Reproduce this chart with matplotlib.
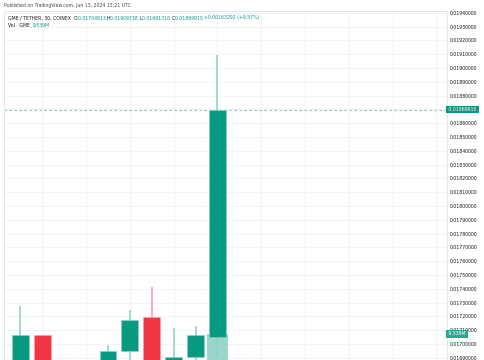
import numpy as np
import matplotlib
matplotlib.use("Agg")
import matplotlib.pyplot as plt

# GME / TETHER 30m candles (off-screen parts estimated)
idx = [0, 1, 4, 5, 6, 7, 8, 9]
opens = [0.01686, 0.017063, 0.01686, 0.016949, 0.017193, 0.01686, 0.016908, 0.01704913]
highs = [0.017278, 0.017063, 0.016995, 0.017244, 0.017411, 0.017114, 0.017130, 0.01909738]
lows = [0.01684, 0.01684, 0.01684, 0.01685, 0.01684, 0.01684, 0.01686, 0.01691316]
closes = [0.017063, 0.01686, 0.016951, 0.017172, 0.01686, 0.016906, 0.017063, 0.01869910]
volumes = [0.2e6, 0.2e6, 0.1e6, 0.3e6, 0.3e6, 0.1e6, 0.2e6, 9.539e6]

last_price = 0.01869910
last_vol = "9.539M"

UP = "#089981"
DOWN = "#f23645"
UP_WICK = "#8fd3c6"
DOWN_WICK = "#f7a3ab"
GRID = "#f0f3fa"
TXT = "#131722"
FS = 3.3

fig = plt.figure(figsize=(4.85, 3.6), dpi=100)
ax = fig.add_axes([4 / 485, 0, 443 / 485, 349 / 360])
ymin, ymax = 0.016884, 0.019413
ax.set_xlim(-0.744, 19.48)
ax.set_ylim(ymin, ymax)
ax.set_axisbelow(True)

# volume overlay: its own scale, zero sits below the visible area
vmin, vmax = 2e6, 103e6
vol_top = [ymin + (v - vmin) / (vmax - vmin) * (ymax - ymin) for v in volumes]
ax.bar(idx, [t - (ymin - 0.0002) for t in vol_top], bottom=ymin - 0.0002,
       width=0.97, color=UP_WICK, alpha=0.9, zorder=1)

for i, o, h, l, c in zip(idx, opens, highs, lows, closes):
    up = c >= o
    ax.vlines(i, l, h, color=UP_WICK if up else DOWN_WICK, lw=1.2, zorder=2)
    ax.bar(i, abs(c - o), bottom=min(o, c), width=0.76,
           color=UP if up else DOWN, edgecolor=UP_WICK if up else DOWN_WICK,
           lw=0.4, zorder=3)

ticks = np.round(np.arange(0.0169, 0.01941, 0.0001), 5)
ax.set_yticks(ticks)
# the tick hidden behind the last-price label is left blank
ax.set_yticklabels(["" if abs(t - 0.0187) < 1e-9 else f"{t:.8f}" for t in ticks])
ax.yaxis.tick_right()
ax.tick_params(axis="y", length=0, pad=2, labelsize=FS, labelcolor=TXT)
ax.set_xticks(np.arange(1, 20, 2))
ax.tick_params(axis="x", length=0, labelbottom=False)
ax.grid(True, color=GRID, lw=0.8)
ax.spines["bottom"].set_visible(False)
for s in ["left", "top", "right"]:
    ax.spines[s].set_color("#e0e3eb")
    ax.spines[s].set_linewidth(0.6)

# last price line and labels
ax.axhline(last_price, color=UP, lw=0.6, ls=(0, (3, 3)), alpha=0.6, zorder=1.5)
ax.text(1.0, last_price, " 0.01869910 ", transform=ax.get_yaxis_transform(),
        ha="left", va="center", fontsize=FS, color="white", zorder=5,
        bbox=dict(boxstyle="square,pad=0.3", fc=UP, ec="none"), clip_on=False)
ax.text(1.0, vol_top[-1], " " + last_vol + " ", transform=ax.get_yaxis_transform(),
        ha="left", va="center", fontsize=FS, color="white", zorder=5,
        bbox=dict(boxstyle="square,pad=0.3", fc="#22ab94", ec="none"), clip_on=False)

# header texts
fig.text(4 / 485, 1 - 6 / 360, "Published on TradingView.com, Jun 13, 2024 15:21 UTC",
         fontsize=3.3, color="#434651", va="center")
y1 = 1 - 18 / 360
parts = [("GME / TETHER, 30, COINEX  ", TXT), ("O", TXT), ("0.01704913 ", UP),
         ("H", TXT), ("0.01909738 ", UP), ("L", TXT), ("0.01691316 ", UP),
         ("C", TXT), ("0.01869910 ", UP), ("+0.00163292 (+9.57%)", UP)]
fig.canvas.draw()
x = 8 / 485
r = fig.canvas.get_renderer()
for s, col in parts:
    t = fig.text(x, y1, s, fontsize=FS, color=col, va="center")
    bb = t.get_window_extent(renderer=r)
    x += bb.width / fig.bbox.width
y2 = 1 - 25.3 / 360
t = fig.text(8 / 485, y2, "Vol · GME  ", fontsize=FS, color=TXT, va="center")
bb = t.get_window_extent(renderer=r)
fig.text(8 / 485 + bb.width / fig.bbox.width, y2, last_vol, fontsize=FS, color=UP, va="center")

fig.savefig("out.png", dpi=100)
